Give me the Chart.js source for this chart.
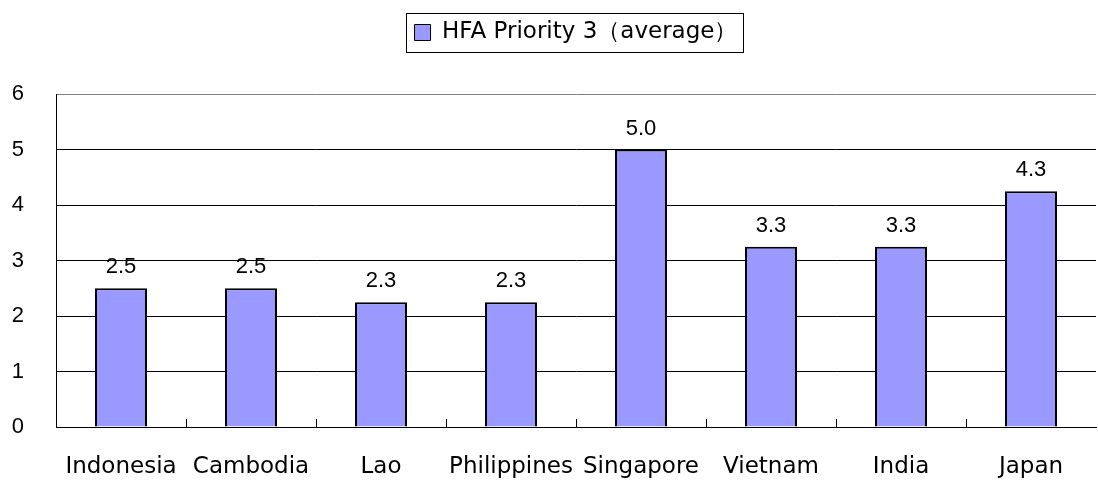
<!DOCTYPE html>
<html>
<head>
<meta charset="utf-8">
<script src="https://cdn.jsdelivr.net/npm/chart.js@4"></script>
<style>
  html, body { margin: 0; padding: 0; background: #fff; }
  #chart { display: block; }
</style>
</head>
<body>
<canvas id="chart" width="1098" height="481"></canvas>
<script>
let countries = ['Indonesia', 'Cambodia', 'Lao', 'Philippines', 'Singapore', 'Vietnam', 'India', 'Japan'];
let priority3 = [2.5, 2.5, 2.25, 2.25, 5.0, 3.25, 3.25, 4.25];
let yTicks = [0, 1, 2, 3, 4, 5, 6];
let seriesName = 'HFA Priority 3（average）';

let ctx = document.getElementById('chart').getContext('2d');

// labels on top of the bars + little category ticks + frame round the legend
let extras = {
  id: 'extras',
  afterInit(chart) {
    let lg = chart.legend;
    if (lg && !lg._patched) {
      let fit = lg.fit;
      lg.fit = function () {
        fit.call(this);
        this.height += 40;
      };
      lg._patched = true;
    }
  },
  afterDatasetsDraw(chart) {
    let c = chart.ctx;
    let meta = chart.getDatasetMeta(0);
    c.save();
    c.font = '22px "Liberation Sans", Arial, sans-serif';
    c.fillStyle = '#000';
    c.textAlign = 'center';
    c.textBaseline = 'alphabetic';
    meta.data.forEach((bar, i) => {
      c.fillText(priority3[i].toFixed(1), bar.x, bar.y - 15);
    });

    // category separators, pointing up from the x axis
    let xs = chart.scales.x;
    let bottom = chart.chartArea.bottom;
    c.strokeStyle = '#000';
    c.lineWidth = 1;
    c.beginPath();
    for (let i = 1; i < countries.length; i++) {
      let x = Math.round((xs.getPixelForValue(i - 1) + xs.getPixelForValue(i)) / 2) + 0.5;
      c.moveTo(x, bottom);
      c.lineTo(x, bottom - 8);
    }
    c.stroke();
    c.restore();
  },
  afterDraw(chart) {
    let hb = chart.legend.legendHitBoxes[0];
    if (!hb) return;
    let c = chart.ctx;
    c.save();
    c.strokeStyle = '#000';
    c.lineWidth = 1;
    c.strokeRect(Math.round(hb.left - 9) + 0.5, Math.round(hb.top - 8) + 0.5,
                 Math.round(hb.width + 14), Math.round(hb.height + 16));
    c.restore();
  }
};

let chart = new Chart(ctx, {
  type: 'bar',
  data: {
    labels: countries,
    datasets: [{
      label: seriesName,
      data: priority3,
      backgroundColor: '#9999FF',
      borderColor: '#000',
      borderWidth: 2,
      categoryPercentage: 1,
      barPercentage: 0.4
    }]
  },
  options: {
    animation: false,
    responsive: false,
    layout: { padding: { left: 12, right: 2, top: 13, bottom: 2 } },
    plugins: {
      legend: {
        display: true,
        position: 'top',
        fullSize: false,
        labels: {
          boxWidth: 16,
          boxHeight: 16,
          padding: 8,
          color: '#000',
          font: { family: '"DejaVu Sans", sans-serif', size: 23 },
          generateLabels(chart) {
            let ds = chart.data.datasets[0];
            return [{
              text: ds.label,
              fillStyle: ds.backgroundColor,
              strokeStyle: '#000',
              lineWidth: 1,
              datasetIndex: 0
            }];
          }
        }
      },
      tooltip: { enabled: false }
    },
    scales: {
      x: {
        offset: true,
        afterFit(scale) { scale.height = 52; },
        grid: {
          drawTicks: false,
          color: (c) => c.index === countries.length ? '#808080' : 'rgba(0,0,0,0)'
        },
        border: { display: true, color: '#000', width: 1 },
        ticks: {
          color: '#000',
          padding: 26,
          maxRotation: 0,
          minRotation: 0,
          autoSkip: false,
          font: { family: '"DejaVu Sans", sans-serif', size: 23 }
        }
      },
      y: {
        min: 0,
        max: 6,
        afterFit(scale) { scale.width = 44; },
        afterBuildTicks(scale) {
          scale.ticks = yTicks.map(v => ({ value: v }));
        },
        grid: {
          drawTicks: false,
          color: (c) => c.tick && c.tick.value === 6 ? '#808080' : '#000'
        },
        border: { display: true, color: '#000', width: 1 },
        ticks: {
          color: '#000',
          padding: 32,
          font: { family: '"Liberation Sans", Arial, sans-serif', size: 22 }
        }
      }
    }
  },
  plugins: [extras]
});
</script>
</body>
</html>
